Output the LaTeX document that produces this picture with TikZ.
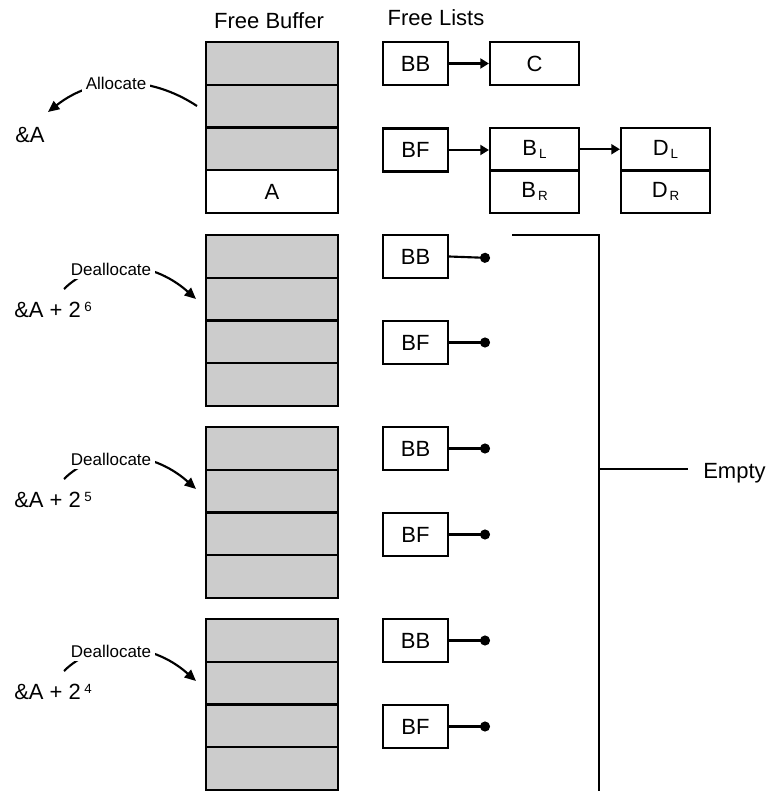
\documentclass[tikz,border=0pt]{standalone}
\usepackage{fontspec}
\setmainfont{Liberation Sans}
\usetikzlibrary{arrows.meta}
\definecolor{cellgray}{RGB}{204,204,204}
\newcommand\bigtxt{\fontsize{16.5}{19}\selectfont}
\newcommand\smalltxt{\fontsize{12.75}{15}\selectfont}
\newcommand\subtxt[1]{\kern1.5pt\raisebox{-2pt}{\fontsize{10}{11}\selectfont #1}}
\newcommand\suptxt[1]{\kern2.5pt\raisebox{4pt}{\fontsize{10}{11}\selectfont #1}}
\begin{document}
\begin{tikzpicture}[x=0.75pt, y=-0.75pt,
  thick line/.style={line width=1.6pt},
  cell/.style={draw, line width=1.6pt, fill=cellgray, minimum width=99pt, minimum height=32.0625pt, inner sep=0, font=\bigtxt},
  lbox/.style={draw, line width=1.6pt, fill=white, minimum width=48.75pt, minimum height=32.25pt, inner sep=0, font=\bigtxt},
  wbox/.style={draw, line width=1.6pt, fill=white, minimum width=66.75pt, minimum height=31.875pt, inner sep=0, font=\bigtxt},
  link/.style={line width=1.6pt, -{Triangle[length=6.5pt,width=7.5pt]}},
  dotlink/.style={line width=1.6pt, -{Circle[length=7.5pt]}},
  curvearrow/.style={line width=1.6pt, -{Triangle[length=8.5pt,width=7.5pt]}},
  lab/.style={font=\smalltxt, fill=white, inner sep=3pt},
  bigtext/.style={font=\bigtxt, inner sep=0}]
\useasboundingbox (0,0) rectangle (768,791);

% headers
\node[bigtext, anchor=base] (hbuf) at (269,28.3) {Free Buffer};
\node[bigtext, anchor=base] (hlist) at (436,26) {Free Lists};

% stack 1
\foreach \j in {0,1,2} {
  \node[cell] (s1c\j) at (272,{42+42.75*(\j+0.5)}) {};
}
\node[cell, fill=white] (s1c3) at (272,{42+42.75*3.5}) {A};

% stacks 2-4
\foreach \k/\T in {2/235,3/427,4/619} {
  \foreach \j in {0,1,2,3} {
    \node[cell] (s\k c\j) at (272,{\T+42.75*(\j+0.5)}) {};
  }
}

% free lists, stack 1
\node[lbox] (bb1) at (415.5,63.5) {BB};
\node[wbox] (c1) at (534.5,63.5) {C};
\node[lbox] (bf1) at (415.5,150) {BF};
\node[wbox] (bl) at (534.5,149.25) {B\subtxt{L}};
\node[wbox] (br) at (534.5,191.75) {B\subtxt{R}};
\node[wbox] (dl) at (665.5,149.25) {D\subtxt{L}};
\node[wbox] (dr) at (665.5,191.75) {D\subtxt{R}};
\draw[link] (bb1.east) -- (c1.west);
\draw[link] (bf1.east) -- (bf1.east -| bl.west);
\draw[link] (bl.east) -- (dl.west);

% free lists, stacks 2-4
\foreach \k/\T in {2/235,3/427,4/619} {
  \node[lbox] (bb\k) at (415.5,{\T+21.5}) {BB};
  \node[lbox] (bf\k) at (415.5,{\T+107.5}) {BF};
  \coordinate (dbf\k) at (490,{\T+107.5});
  \draw[dotlink] (bf\k.east) -- (dbf\k);
}
\coordinate (dbb2) at (490,258);
\coordinate (dbb3) at (490,448.5);
\coordinate (dbb4) at (490,640.5);
\draw[dotlink] (bb2.east) -- (dbb2);
\draw[dotlink] (bb3.east) -- (dbb3);
\draw[dotlink] (bb4.east) -- (dbb4);

% bracket and Empty
\coordinate (brA) at (512,235);
\coordinate (brB) at (599,235);
\coordinate (brC) at (599,791.8);
\coordinate (brD) at (512,791.8);
\draw[thick line] (brA) -- (brB) -- (brC) -- (brD);
\coordinate (emA) at (599,469);
\coordinate (emB) at (688,469);
\draw[thick line] (emA) -- (emB);
\node[bigtext, anchor=base west] (empty) at (703,478) {Empty};

% allocate
\coordinate (al0) at (197,106);
\coordinate (al1) at (48,112);
\draw[curvearrow] (al0) .. controls (150,75) and (95,75) .. (al1);
\node[lab] (alloc) at (116,83) {Allocate};
\node[bigtext, anchor=base west] (addr1) at (15,143) {\&A};

% deallocate
\foreach \k/\dy/\e in {2/0/6,3/190/5,4/382/4} {
  \coordinate (de\k a) at (64,{289+\dy});
  \coordinate (de\k b) at (196,{299+\dy});
  \draw[curvearrow] (de\k a) .. controls (95,{258+\dy}) and (150,{258+\dy}) .. (de\k b);
  \node[lab] (deal\k) at (111,{269+\dy}) {Deallocate};
  \node[bigtext, anchor=base west] (addr\k) at (14,{317+\dy}) {\&A + 2\suptxt{\e}};
}
\end{tikzpicture}
\end{document}
